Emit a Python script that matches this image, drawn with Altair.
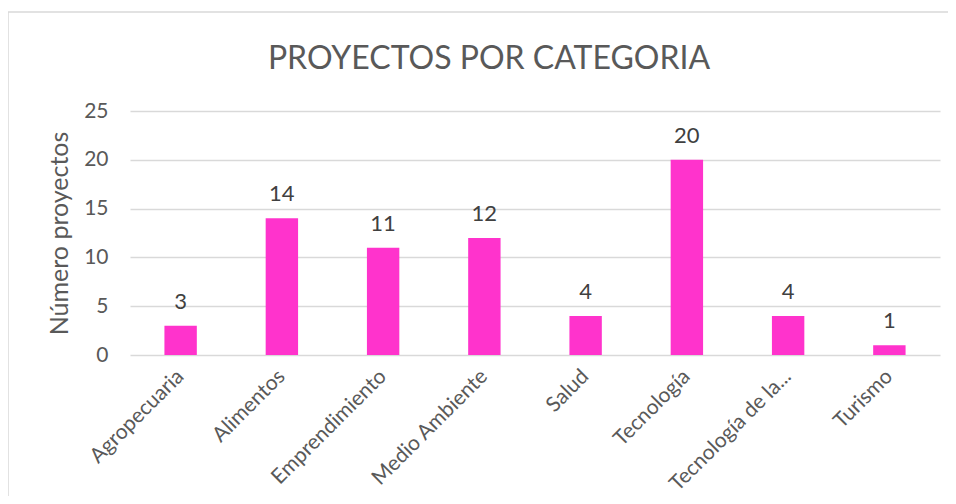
import altair as alt
import pandas as pd

categories = ["Agropecuaria", "Alimentos", "Emprendimiento", "Medio Ambiente",
              "Salud", "Tecnología", "Tecnología de la...", "Turismo"]
values = [3, 14, 11, 12, 4, 20, 4, 1]

df = pd.DataFrame({"categoria": categories, "proyectos": values})

FONT = "Lato"
TXT = "#595959"
BORDER = "#D9D9D9"

x_enc = alt.X("categoria:N", sort=categories, title=None,
              scale=alt.Scale(paddingInner=0.68, paddingOuter=0.34),
              axis=alt.Axis(labelAngle=-45, labelAlign="right", labelBaseline="middle",
                            labelFontSize=21, labelColor=TXT, labelFont=FONT,
                            labelPadding=18, ticks=False, domain=False, grid=False))
y_enc = alt.Y("proyectos:Q", title="Número proyectos",
              scale=alt.Scale(domain=[0, 25], nice=False),
              axis=alt.Axis(values=[0, 5, 10, 15, 20, 25], labelFontSize=21,
                            labelColor=TXT, labelFont=FONT, labelPadding=22,
                            ticks=False, domain=False, gridColor=BORDER,
                            gridWidth=1.3, titleFontSize=25, titleColor=TXT,
                            titleFont=FONT, titleFontWeight="normal",
                            titlePadding=11))

base = alt.Chart(df)
one = alt.Chart(pd.DataFrame({"a": [0]}))

border_top = one.mark_rule(color=BORDER, strokeWidth=1.5).encode(
    x=alt.value(-122), x2=alt.value(1000), y=alt.value(-99))
border_left = one.mark_rule(color=BORDER, strokeWidth=1.5).encode(
    x=alt.value(-122), y=alt.value(-99), y2=alt.value(600))

bars = base.mark_bar(color="#FF33CC").encode(x=x_enc, y=y_enc)
labels = base.mark_text(dy=-17, baseline="alphabetic", fontSize=22, font=FONT,
                        color="#404040").encode(
    x=alt.X("categoria:N", sort=categories),
    y="proyectos:Q",
    text="proyectos:Q")

chart = alt.layer(border_top, border_left, bars, labels).properties(
    width=810, height=244,
    background="white",
    autosize=alt.AutoSizeParams(type="none"),
    padding={"left": 122, "top": 103, "right": 8, "bottom": 141},
    title=alt.TitleParams("PROYECTOS POR CATEGORIA", fontSize=32, font=FONT,
                          color=TXT, fontWeight="normal", anchor="middle",
                          dx=-46, offset=-65),
).configure_view(strokeWidth=0, stroke="transparent")

chart.save("out.html", embed_options={"renderer": "svg", "actions": False})
